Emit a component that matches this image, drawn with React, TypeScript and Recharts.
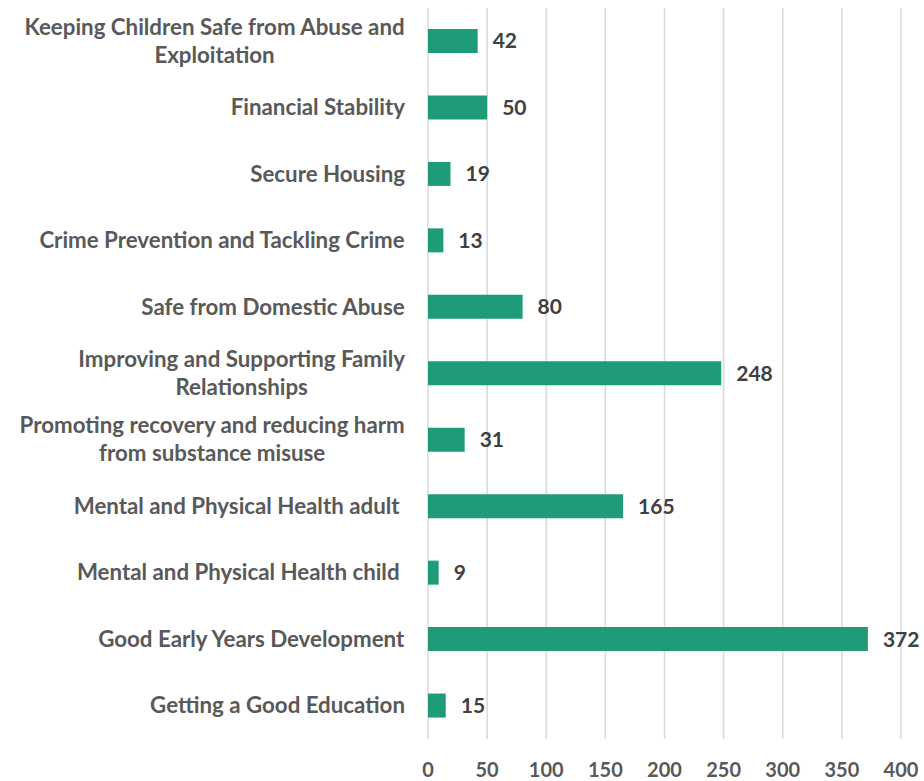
import React from "react";
import { BarChart, Bar, XAxis, YAxis, CartesianGrid, LabelList } from "recharts";

const categories = [
  "Keeping Children Safe from Abuse and\nExploitation",
  "Financial Stability",
  "Secure Housing",
  "Crime Prevention and Tackling Crime",
  "Safe from Domestic Abuse",
  "Improving and Supporting Family\nRelationships",
  "Promoting recovery and reducing harm\nfrom substance misuse",
  "Mental and Physical Health adult ",
  "Mental and Physical Health child ",
  "Good Early Years Development",
  "Getting a Good Education",
];
const values = [42, 50, 19, 13, 80, 248, 31, 165, 9, 372, 15];
const xTicks = [0, 50, 100, 150, 200, 250, 300, 350, 400];

const data = categories.map((c, i) => ({ name: c, value: values[i] }));

const FONT = "Lato, 'Open Sans', sans-serif";
const YFS = 22.3;

let ctx: CanvasRenderingContext2D | null = null;
const measure = (s: string) => {
  if (!ctx) {
    const c = document.createElement("canvas");
    ctx = c.getContext("2d");
  }
  if (!ctx) return s.length * YFS * 0.5;
  ctx.font = `700 ${YFS}px Lato`;
  return ctx.measureText(s).width;
};

const YTick = (props: any) => {
  const { x, y, payload } = props;
  const lines: string[] = String(payload.value).split("\n");
  const lh = 28;
  const start = -((lines.length - 1) * lh) / 2;
  const maxW = Math.max(...lines.map(measure));
  const cx = x - maxW / 2;
  return (
    <text
      x={cx}
      y={y}
      textAnchor="middle"
      fill="#595959"
      fontFamily={FONT}
      fontWeight={700}
      fontSize={YFS}
      style={{ whiteSpace: "pre" }}
    >
      {lines.map((l, i) => (
        <tspan key={i} x={cx} dy={i === 0 ? start + 7.5 : lh}>
          {l}
        </tspan>
      ))}
    </text>
  );
};

export default function App() {
  return (
    <div style={{ position: "absolute", left: 0, top: 0, width: 924, height: 781, background: "#fff" }}>
      <BarChart
        width={924}
        height={781}
        data={data}
        layout="vertical"
        margin={{ top: 8, right: 23, bottom: 12, left: 0 }}
      >
        <CartesianGrid horizontal={false} vertical={true} stroke="#d9d9d9" strokeWidth={1.5} />
        <XAxis
          type="number"
          domain={[0, 400]}
          ticks={xTicks}
          axisLine={false}
          tickLine={false}
          tickSize={0}
          tickMargin={24}
          height={30}
          interval={0}
          tick={{ fill: "#595959", fontFamily: FONT, fontWeight: 700, fontSize: 20 }}
        />
        <YAxis
          type="category"
          dataKey="name"
          width={428}
          axisLine={false}
          tickLine={false}
          tickSize={0}
          tickMargin={23}
          interval={0}
          tick={<YTick />}
        />
        <Bar dataKey="value" fill="#1e9b78" barSize={24} isAnimationActive={false}>
          <LabelList
            dataKey="value"
            position="right"
            offset={15}
            fill="#404040"
            fontFamily={FONT}
            fontWeight={700}
            fontSize={21}
          />
        </Bar>
      </BarChart>
    </div>
  );
}
